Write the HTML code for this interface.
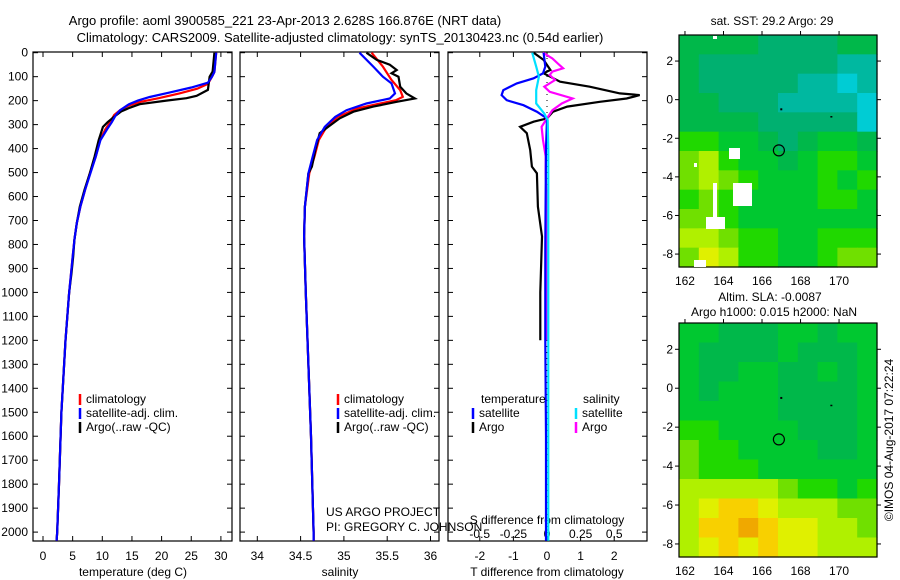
<!DOCTYPE html>
<html><head><meta charset="utf-8"><style>
html,body{margin:0;padding:0;background:#fff;}
svg{display:block;font-family:"Liberation Sans",sans-serif;}
text{font-size:12px;fill:#000;}
</style></head><body>
<svg id="chart" width="900" height="580" viewBox="0 0 900 580" xmlns="http://www.w3.org/2000/svg">
<defs>
<clipPath id="c1"><rect x="33" y="52" width="199" height="489"/></clipPath>
<clipPath id="c2"><rect x="240" y="52" width="199" height="489"/></clipPath>
<clipPath id="c3"><rect x="448" y="52" width="199" height="489"/></clipPath>
</defs>
<text x="285" y="25" text-anchor="middle" style="font-size:13px">Argo profile: aoml 3900585_221 23-Apr-2013 2.628S 166.876E (NRT data)</text>
<text x="340" y="42" text-anchor="middle" style="font-size:13px">Climatology: CARS2009. Satellite-adjusted climatology: synTS_20130423.nc (0.54d earlier)</text>
<g id="g"></g>
</svg>
<script>
// ---------- data ----------
const depthTicks=[0,100,200,300,400,500,600,700,800,900,1000,1100,1200,1300,1400,1500,1600,1700,1800,1900,2000];
const tempTicks=[0,5,10,15,20,25,30];
const salTicks=[34,34.5,35,35.5,36];
const tdTicks=[-2,-1,0,1,2];
const sdTicks=[-0.5,-0.25,0,0.25,0.5];
// temperature
const argoTDepth=[0,79,100,155,180,190,200,215,230,245,265,290,310,364,433,503,572,642,711,781,850,920,1003,1200,1500,1800,2000,2036];
const argoTVal=[28.9,28.6,28.1,27.8,25.9,24.2,20.8,16.3,14.6,13.2,12.1,10.9,10.1,9.4,8.7,7.9,7.0,6.2,5.7,5.3,5.1,4.8,4.4,3.8,3.1,2.7,2.4,2.3];
const climTDepth=[0,80,100,130,150,170,190,205,220,240,260,290,320,364,433,503,572,642,711,781,850,1003,1200,1500,1800,2000,2036];
const climTVal=[29.2,28.9,28.5,27.8,26,23,19.5,16.5,14.5,13,12,11.3,10.5,9.6,8.9,7.9,7.1,6.3,5.7,5.3,5.0,4.4,3.8,3.1,2.7,2.4,2.3];
const satTDepth=[0,80,100,125,145,165,185,200,215,240,260,290,320,364,433,503,572,642,711,781,850,1003,1200,1500,1800,2000,2036];
const satTVal=[29.2,28.9,28.5,27.8,25,21.5,18,16,14.5,13,12.3,11.6,10.8,9.7,8.9,8.0,7.1,6.3,5.7,5.3,5.0,4.4,3.8,3.1,2.7,2.4,2.3];
// salinity
const argoSDepth=[0,30,50,72,86,100,142,170,191,205,225,246,274,309,336,406,475,503,642,767,1003,1300,1600,2000,2036];
const argoSVal=[35.26,35.38,35.53,35.61,35.55,35.63,35.65,35.72,35.82,35.61,35.34,35.11,34.95,34.82,34.72,34.67,34.63,34.59,34.55,34.54,34.56,34.59,34.62,34.65,34.65];
const climSDepth=[0,58,114,156,184,198,212,233,268,309,364,433,503,642,767,1003,1300,1600,2000,2036];
const climSVal=[35.32,35.45,35.55,35.65,35.68,35.6,35.42,35.15,34.93,34.8,34.71,34.66,34.6,34.55,34.54,34.56,34.59,34.62,34.65,34.65];
const satSDepth=[0,58,100,128,170,191,212,240,268,309,364,433,503,642,767,1003,1300,1600,2000,2036];
const satSVal=[35.18,35.34,35.45,35.55,35.59,35.53,35.26,35.03,34.9,34.78,34.69,34.64,34.59,34.55,34.54,34.56,34.59,34.62,34.65,34.65];
// differences
const argoTdDepth=[0,30,72,86,121,142,170,177,191,205,225,246,274,288,309,336,406,475,503,642,767,1000,1200];
const argoTdVal=[-0.4,-0.1,0.1,-0.1,0.39,1.27,2.17,2.76,2.37,1.57,0.6,0.18,0,-0.4,-0.8,-0.6,-0.5,-0.45,-0.3,-0.27,-0.15,-0.2,-0.2];
const satTdDepth=[0,58,86,107,128,156,177,198,219,246,274,400,800,1200,1600,2036];
const satTdVal=[-0.1,-0.05,-0.12,-0.4,-0.9,-1.3,-1.35,-1.2,-0.7,-0.3,0,-0.03,-0.05,-0.05,-0.03,-0.03];
const argoSdDepth=[0,24,45,65,79,93,114,142,163,191,212,240,274,309,364,433,503,642,850,1200];
const argoSdVal=[-0.03,0.04,0.08,0.12,0.04,0.02,0.06,-0.02,0.02,0.19,0.11,0.04,0,-0.04,-0.03,-0.01,-0.01,0,0,0];
const satSdDepth=[0,58,100,156,212,254,281,400,800,1200,1600,2036];
const satSdVal=[-0.11,-0.08,-0.06,-0.08,-0.08,-0.02,0.005,0.01,0.01,0.01,0.01,0.01];
// maps
const mapPalette=["#00ccd4","#00b8a0","#00b070","#00b84a","#00c830","#20d800","#70e000","#b0f000","#e0f000","#f8d000","#f0a800"];
const sstGrid=["3333222233","3222222211","3222221101","3322211110","3333222220","5544323443","6754434554","6765444545","5654444554","6654444444","7765544555","6875544566"];
const slaGrid=["4433344344","4333343334","4334433434","4344433334","4444433334","5544443334","6554444334","6555444444","7777765545","7899877766","799a988776","7898988777"];
const mapLonTicks=[162,164,166,168,170];
const mapLatTicks=[2,0,-2,-4,-6,-8];
const floatLon=166.876, floatLat=-2.628;
// ---------- helpers ----------
const NS="http://www.w3.org/2000/svg";
const G=document.getElementById('g');
function mk(tag,attrs,parent){const e=document.createElementNS(NS,tag);for(const k in attrs)e.setAttribute(k,attrs[k]);(parent||G).appendChild(e);return e;}
const yD=d=>52.7+d*0.2397;
const xT=t=>43+t*5.93;
const xS=s=>257.3+(s-34)*86.6;
const xTd=t=>547+t*33.6;
const xSd=s=>547+s*134.5;
function line(depths,vals,xf,color,clip,name){
  const pts=depths.map((d,i)=>xf(vals[i]).toFixed(1)+','+yD(d).toFixed(1)).join(' ');
  const p=mk('polyline',{points:pts,fill:'none',stroke:color,'stroke-width':2.2,'clip-path':'url(#'+clip+')'});
  
  
}
function txt(x,y,s,anchor,name,extra){
  const t=mk('text',Object.assign({x:x,y:y,'text-anchor':anchor||'start'},extra||{}));t.textContent=s;
  
  
  return t;
}
// ---------- profile panels ----------
const panels=[[33,'c1'],[240,'c2'],[448,'c3']];
panels.forEach(([x0],pi)=>{
  const r=mk('rect',{x:x0,y:52,width:199,height:489,fill:'none',stroke:'#000','stroke-width':1.2});
  
  
  depthTicks.forEach(d=>{
    mk('line',{x1:x0,x2:x0+5,y1:yD(d),y2:yD(d),stroke:'#000'});
    mk('line',{x1:x0+194,x2:x0+199,y1:yD(d),y2:yD(d),stroke:'#000'});
  });
});
depthTicks.forEach(d=>{txt(28,yD(d)+4,String(d),'end','depth-tick-label');});
tempTicks.forEach(t=>{mk('line',{x1:xT(t),x2:xT(t),y1:52,y2:57,stroke:'#000'});mk('line',{x1:xT(t),x2:xT(t),y1:536,y2:541,stroke:'#000'});txt(xT(t),560,String(t),'middle','temperature-tick-label');});
salTicks.forEach(s=>{mk('line',{x1:xS(s),x2:xS(s),y1:52,y2:57,stroke:'#000'});mk('line',{x1:xS(s),x2:xS(s),y1:536,y2:541,stroke:'#000'});txt(xS(s),560,String(s),'middle','salinity-tick-label');});
tdTicks.forEach(t=>{mk('line',{x1:xTd(t),x2:xTd(t),y1:52,y2:57,stroke:'#000'});mk('line',{x1:xTd(t),x2:xTd(t),y1:536,y2:541,stroke:'#000'});txt(xTd(t),560,String(t),'middle','t-diff-tick-label');});
sdTicks.forEach(s=>{txt(xSd(s),538,String(s),'middle','s-diff-tick-label');});
txt(133,576,'temperature (deg C)','middle','temperature-axis-title');
txt(340,576,'salinity','middle','salinity-axis-title');
txt(547,576,'T difference from climatology','middle','t-diff-axis-title');
txt(547,524,'S difference from climatology','middle','s-diff-axis-title');
txt(326,516,'US ARGO PROJECT','start','project-label');
txt(326,531,'PI: GREGORY C. JOHNSON','start','pi-label');
const zl=mk('line',{x1:547,x2:547,y1:52,y2:541,stroke:'#000','stroke-dasharray':'1,5'});


line(climTDepth,climTVal,xT,'#ff0000','c1','temp-climatology-line');
line(argoTDepth,argoTVal,xT,'#000000','c1','temp-argo-line');
line(satTDepth,satTVal,xT,'#0000ff','c1','temp-satellite-line');
line(climSDepth,climSVal,xS,'#ff0000','c2','sal-climatology-line');
line(argoSDepth,argoSVal,xS,'#000000','c2','sal-argo-line');
line(satSDepth,satSVal,xS,'#0000ff','c2','sal-satellite-line');
line(argoTdDepth,argoTdVal,xTd,'#000000','c3','tdiff-argo-line');
line(argoSdDepth,argoSdVal,xSd,'#ff00ff','c3','sdiff-argo-line');
line(satTdDepth,satTdVal,xTd,'#0000ff','c3','tdiff-satellite-line');
line(satSdDepth,satSdVal,xSd,'#00e0ff','c3','sdiff-satellite-line');
function legEntry(x,y,color,label,name){
  mk('line',{x1:x,x2:x,y1:y-9,y2:y+2,stroke:color,'stroke-width':2.5});
  txt(x+6,y,label,'start',name);
}
[[80],[338]].forEach(([lx])=>{
  legEntry(lx,403,'#ff0000','climatology','legend-climatology');
  legEntry(lx,417,'#0000ff','satellite-adj. clim.','legend-satellite');
  legEntry(lx,431,'#000000','Argo(..raw -QC)','legend-argo');
});
txt(481,403,'temperature','start','legend-temperature-header');
txt(583,403,'salinity','start','legend-salinity-header');
legEntry(473,417,'#0000ff','satellite','legend-t-satellite');
legEntry(473,431,'#000000','Argo','legend-t-argo');
legEntry(576,417,'#00e0ff','satellite','legend-s-satellite');
legEntry(576,431,'#ff00ff','Argo','legend-s-argo');
// ---------- maps ----------
function drawMap(grid,top,bottom,name){
  const x0=679,x1=877,lonMin=161.69,lonMax=171.97,latTop=3.35,latBot=-8.67;
  const lx=l=>x0+(l-lonMin)/(lonMax-lonMin)*(x1-x0);
  const ly=l=>top+(latTop-l)/(latTop-latBot)*(bottom-top);
  const rows=grid.length,cols=grid[0].length;
  const cw=(x1-x0)/cols,ch=(bottom-top)/rows;
  grid.forEach((row,ri)=>{[...row].forEach((c,ci)=>{
    const v=parseInt(c,16);
    const r=mk('rect',{x:x0+ci*cw,y:top+ri*ch,width:cw+0.6,height:ch+0.6,fill:mapPalette[v]});
    
    
  });});
  const fr=mk('rect',{x:x0,y:top,width:x1-x0,height:bottom-top,fill:'none',stroke:'#000','stroke-width':1.2});
  
  
  mapLonTicks.forEach(l=>{mk('line',{x1:lx(l),x2:lx(l),y1:top-4,y2:top,stroke:'#000'});txt(lx(l),bottom+18,String(l),'middle',name+'-lon-label');});
  mapLatTicks.forEach(l=>{mk('line',{x1:x1,x2:x1+4,y1:ly(l),y2:ly(l),stroke:'#000'});mk('line',{x1:x0-4,x2:x0,y1:ly(l),y2:ly(l),stroke:'#000'});txt(x0-6,ly(l)+4,String(l),'end',name+'-lat-label');});
  const c=mk('circle',{cx:lx(floatLon),cy:ly(floatLat),r:5.5,fill:'none',stroke:'#000','stroke-width':1.2});
  
  
  mk('rect',{x:lx(167)-1,y:ly(-0.5)-1,width:2,height:2,fill:'#000'});
  mk('rect',{x:lx(169.6)-1,y:ly(-0.9)-1,width:2,height:1.5,fill:'#000'});
  return {lx,ly};
}
drawMap(sstGrid,35,267,'sst-map');
[[729,148,11,11],[733,183,19,23],[713,183,4,37],[706,217,19,12],[694,163,3,4],[713,36,4,3],[694,260,12,7]].forEach(w=>{
  const r=mk('rect',{x:w[0],y:w[1],width:w[2],height:w[3],fill:'#fff'});
  
  
});
drawMap(slaGrid,323,557,'sla-map');
txt(772,25,'sat. SST: 29.2  Argo: 29','middle','sst-map-title');
txt(770,301,'Altim. SLA: -0.0087','middle','sla-map-title');
txt(774,316,'Argo h1000: 0.015 h2000: NaN','middle','sla-map-subtitle');
txt(893,440,'©IMOS 04-Aug-2017 07:22:24','middle','timestamp-label',{transform:'rotate(-90 893 440)'});
</script>
</body></html>
